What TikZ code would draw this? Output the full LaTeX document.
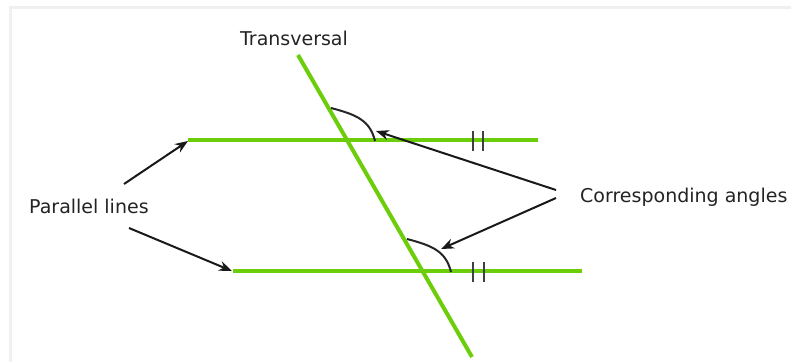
\documentclass[tikz,border=0pt]{standalone}
\usepackage{fontspec}
\setmainfont{DejaVu Sans}
\usetikzlibrary{arrows.meta}
\definecolor{lgreen}{RGB}{108,206,10}
\definecolor{txt}{RGB}{35,35,35}
\begin{document}
\begin{tikzpicture}[x=1pt,y=-1pt,
  gline/.style={draw=lgreen,line width=4pt},
  pointer/.style={draw=black!90,line width=2pt,-{Stealth[length=13pt,width=10pt]}},
  anglemark/.style={draw=black!85,line width=2pt},
  tickmark/.style={draw=black!75,line width=2.5pt},
  frame/.style={draw=black!6,line width=3pt},
  lbl/.style={font=\fontsize{19}{22}\selectfont,text=txt,inner sep=0pt}]
\useasboundingbox (0,0) rectangle (791,362);
\draw[frame] (10.5,362) -- (10.5,7.5) -- (791,7.5);
% lines
\coordinate (t1) at (298,55);
\coordinate (t2) at (472,357);
\coordinate (u1) at (188,140);
\coordinate (u2) at (538,140);
\coordinate (l1) at (233,271);
\coordinate (l2) at (582,271);
\draw[gline] (u1) -- (u2);
\draw[gline] (l1) -- (l2);
\draw[gline] (t1) -- (t2);
% angle marks
\coordinate (a1s) at (331,108);
\coordinate (a1e) at (375,141);
\coordinate (a2s) at (407,239);
\coordinate (a2e) at (451,272);
\draw[anglemark] (a1s) .. controls (358,115) and (370,121) .. (a1e);
\draw[anglemark] (a2s) .. controls (434,246) and (446,252) .. (a2e);
% tick marks
\draw[tickmark] (473,131) -- (473,151);
\draw[tickmark] (483,131) -- (483,151);
\draw[tickmark] (473,262) -- (473,282);
\draw[tickmark] (484,262) -- (484,282);
% labels
\node[lbl,anchor=base] (trans) at (294,45) {Transversal};
\node[lbl,anchor=base west] (par) at (29,213) {Parallel lines};
\node[lbl,anchor=base west] (corr) at (580,202) {Corresponding angles};
% pointers
\coordinate (pu) at (124,184);
\coordinate (pl) at (129,228);
\coordinate (cu) at (556,190);
\coordinate (cl) at (556,198);
\coordinate (h1) at (376,131);
\coordinate (h2) at (441,249);
\coordinate (hp1) at (188,141);
\coordinate (hp2) at (232,271);
\draw[pointer] (pu) -- (hp1);
\draw[pointer] (pl) -- (hp2);
\draw[pointer] (cu) -- (h1);
\draw[pointer] (cl) -- (h2);
\end{tikzpicture}
\end{document}
